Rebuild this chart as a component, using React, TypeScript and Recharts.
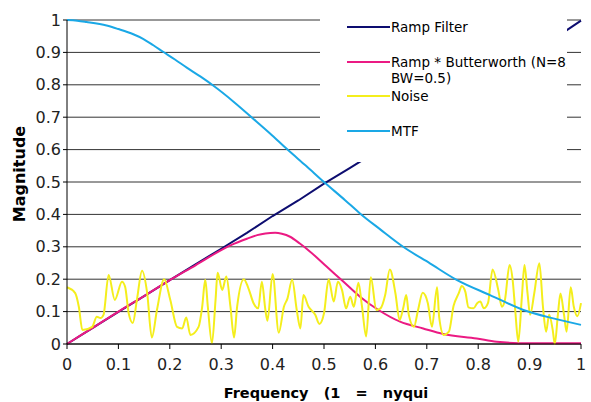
import { LineChart, Line, XAxis, YAxis, CartesianGrid, Legend } from 'recharts';

// axis ticks
const freqTicks = [0, 0.1, 0.2, 0.3, 0.4, 0.5, 0.6, 0.7, 0.8, 0.9, 1];
const magTicks = [0, 0.1, 0.2, 0.3, 0.4, 0.5, 0.6, 0.7, 0.8, 0.9, 1];

// series names, in legend order
const seriesNames = ['Ramp Filter', 'Ramp * Butterworth (N=8,|BW=0.5)', 'Noise', 'MTF'];

// Ramp Filter
const rampFreq = [0, 0.05, 0.1, 0.15, 0.2, 0.25, 0.3, 0.35, 0.4, 0.45, 0.5, 0.55, 0.6, 0.65, 0.7, 0.75, 0.8, 0.85, 0.9, 0.95, 1];
const rampMag = [0, 0.05, 0.099, 0.148, 0.197, 0.246, 0.294, 0.343, 0.395, 0.443, 0.495, 0.543, 0.592, 0.641, 0.69, 0.74, 0.79, 0.84, 0.89, 0.945, 0.998];

// Ramp * Butterworth (N=8, BW=0.5)
const bwFreq = [0, 0.05, 0.1, 0.15, 0.2, 0.25, 0.3, 0.32, 0.35, 0.37, 0.386, 0.405, 0.418, 0.434, 0.453, 0.473, 0.505, 0.538, 0.57, 0.606, 0.648, 0.693, 0.732, 0.797, 0.836, 0.9, 1];
const bwMag = [0, 0.05, 0.1, 0.148, 0.197, 0.243, 0.29, 0.306, 0.325, 0.336, 0.341, 0.343, 0.34, 0.331, 0.31, 0.285, 0.239, 0.192, 0.146, 0.105, 0.069, 0.048, 0.031, 0.017, 0.007, 0.002, 0.002];

// Noise
const noiseFreq = [
  0, 0.016, 0.023, 0.03, 0.049, 0.058, 0.065, 0.071, 0.081, 0.093, 0.107, 0.113, 0.12, 0.128, 0.136, 0.146, 0.156, 0.165,
  0.175, 0.189, 0.201, 0.214, 0.224, 0.232, 0.24, 0.256, 0.263, 0.269, 0.274, 0.282, 0.289, 0.293, 0.302, 0.31, 0.318,
  0.325, 0.331, 0.344, 0.353, 0.363, 0.372, 0.379, 0.386, 0.39, 0.4, 0.412, 0.422, 0.429, 0.438, 0.447, 0.454, 0.46,
  0.47, 0.483, 0.491, 0.5, 0.509, 0.519, 0.527, 0.535, 0.543, 0.551, 0.558, 0.567, 0.574, 0.582, 0.591, 0.602, 0.61,
  0.619, 0.628, 0.639, 0.647, 0.654, 0.66, 0.665, 0.675, 0.683, 0.692, 0.702, 0.71, 0.72, 0.724, 0.733, 0.743, 0.752,
  0.762, 0.768, 0.775, 0.781, 0.791, 0.798, 0.804, 0.811, 0.819, 0.828, 0.839, 0.846, 0.852, 0.861, 0.867, 0.872, 0.878,
  0.885, 0.89, 0.896, 0.901, 0.909, 0.919, 0.926, 0.932, 0.938, 0.945, 0.949, 0.955, 0.96, 0.967, 0.972, 0.98, 0.986,
  0.993, 1,
];
const noiseMag = [
  0.175, 0.157, 0.115, 0.043, 0.053, 0.084, 0.08, 0.09, 0.213, 0.136, 0.192, 0.177, 0.095, 0.065, 0.136, 0.226, 0.157, 0.02,
  0.105, 0.2, 0.136, 0.053, 0.048, 0.082, 0.028, 0.053, 0.115, 0.198, 0.115, 0.002, 0.136, 0.22, 0.167, 0.208, 0.115,
  0.02, 0.115, 0.2, 0.172, 0.126, 0.11, 0.192, 0.105, 0.072, 0.216, 0.035, 0.115, 0.141, 0.198, 0.105, 0.048, 0.151,
  0.115, 0.09, 0.062, 0.095, 0.2, 0.131, 0.192, 0.167, 0.11, 0.146, 0.115, 0.189, 0.115, 0.023, 0.206, 0.105, 0.11,
  0.151, 0.23, 0.156, 0.074, 0.11, 0.151, 0.09, 0.053, 0.105, 0.158, 0.126, 0.053, 0.175, 0.084, 0.028, 0.038, 0.117,
  0.156, 0.179, 0.161, 0.113, 0.11, 0.126, 0.131, 0.11, 0.126, 0.23, 0.167, 0.115, 0.136, 0.244, 0.198, 0.105, 0.007,
  0.146, 0.244, 0.156, 0.09, 0.156, 0.249, 0.115, 0.038, 0.09, 0.043, 0, 0.09, 0.156, 0.09, 0.038, 0.175, 0.115,
  0.086, 0.126,
];

// MTF
const mtfFreq = [0, 0.02, 0.038, 0.077, 0.1, 0.129, 0.148, 0.168, 0.187, 0.21, 0.233, 0.26, 0.285, 0.324, 0.359, 0.395, 0.429, 0.465, 0.5, 0.541, 0.57, 0.61, 0.654, 0.706, 0.758, 0.823, 0.888, 0.946, 1];
const mtfMag = [1, 0.998, 0.994, 0.983, 0.972, 0.956, 0.942, 0.922, 0.902, 0.878, 0.853, 0.825, 0.797, 0.748, 0.7, 0.65, 0.6, 0.55, 0.5, 0.444, 0.403, 0.353, 0.3, 0.249, 0.198, 0.151, 0.105, 0.079, 0.059];

const toPoints = (fs: number[], vs: number[]) => fs.map((f, i) => ({ f, v: vs[i] }));

const rampData = toPoints(rampFreq, rampMag);
const bwData = toPoints(bwFreq, bwMag);
const noiseData = toPoints(noiseFreq, noiseMag);
const mtfData = toPoints(mtfFreq, mtfMag);

const FONT = "'DejaVu Sans', Verdana, sans-serif";

function LegendBox({ payload }: any) {
  const rows = [...(payload ?? [])].sort(
    (a: any, b: any) => seriesNames.indexOf(a.value) - seriesNames.indexOf(b.value),
  );
  return (
    <div style={{ position: 'relative', width: '100%', height: '100%', fontFamily: FONT, fontSize: 13.5, color: '#000' }}>
      {rows.map((entry: any, i: number) => {
        const [first, second] = String(entry.value).split('|');
        return (
          <div key={i} style={{ position: 'absolute', left: 27, top: 19 + i * 34.5, display: 'flex', whiteSpace: 'nowrap' }}>
            <div style={{ width: 43, height: 2, background: entry.color, marginTop: 7 }} />
            <div style={{ lineHeight: '16px', marginLeft: 1 }}>
              <div>{first}</div>
              {second && <div>{second}</div>}
            </div>
          </div>
        );
      })}
    </div>
  );
}

export default function App() {
  return (
    <div style={{ position: 'absolute', left: 0, top: 0, width: 591, height: 402, background: '#FFFFFF' }}>
      <LineChart width={591} height={402} margin={{ top: 20, right: 10, left: 0, bottom: 0 }}>
        <CartesianGrid horizontal vertical={false} stroke="#333" />
        <XAxis
          type="number"
          dataKey="f"
          domain={[0, 1]}
          ticks={freqTicks}
          height={58}
          tick={{ fontSize: 16, fill: '#222', fontFamily: FONT }}
          tickSize={5}
          tickMargin={10}
          axisLine={{ stroke: '#000' }}
          tickLine={{ stroke: '#000' }}
          label={({ viewBox }: any) => (
            <text
              x={viewBox.x + viewBox.width / 2 + 2}
              y={viewBox.y + 54}
              textAnchor="middle"
              style={{ whiteSpace: 'pre' }}
              fontFamily={FONT}
              fontSize={14.5}
              fontWeight={700}
              fill="#000"
            >
              {'Frequency   (1   =   nyqui'}
            </text>
          )}
        />
        <YAxis
          type="number"
          domain={[0, 1]}
          ticks={magTicks}
          width={67}
          tick={{ fontSize: 16, fill: '#222', fontFamily: FONT }}
          tickFormatter={(v: number) => String(v)}
          tickSize={4}
          tickMargin={2}
          axisLine={{ stroke: '#000' }}
          tickLine={{ stroke: '#000' }}
          label={{
            value: 'Magnitude',
            angle: -90,
            position: 'insideLeft',
            offset: 19,
            dy: -8,
            style: { textAnchor: 'middle', fontFamily: FONT, fontSize: 16, fontWeight: 700, fill: '#000' },
          }}
        />
        <Legend
          layout="horizontal"
          verticalAlign="middle"
          align="center"
          content={<LegendBox />}
          wrapperStyle={{ position: 'absolute', left: 320, top: 0, width: 247, height: 162, background: '#FFFFFF', overflow: 'hidden' }}
        />
        <Line data={rampData} dataKey="v" name={seriesNames[0]} stroke="#0d0d70" strokeWidth={2} dot={false} type="linear" isAnimationActive={false} />
        <Line data={bwData} dataKey="v" name={seriesNames[1]} stroke="#eb1a83" strokeWidth={2} dot={false} type="monotone" isAnimationActive={false} />
        <Line data={noiseData} dataKey="v" name={seriesNames[2]} stroke="#f4ee1c" strokeWidth={2} dot={false} type="monotone" isAnimationActive={false} />
        <Line data={mtfData} dataKey="v" name={seriesNames[3]} stroke="#1aa8e6" strokeWidth={2} dot={false} type="monotone" isAnimationActive={false} />
      </LineChart>
    </div>
  );
}
